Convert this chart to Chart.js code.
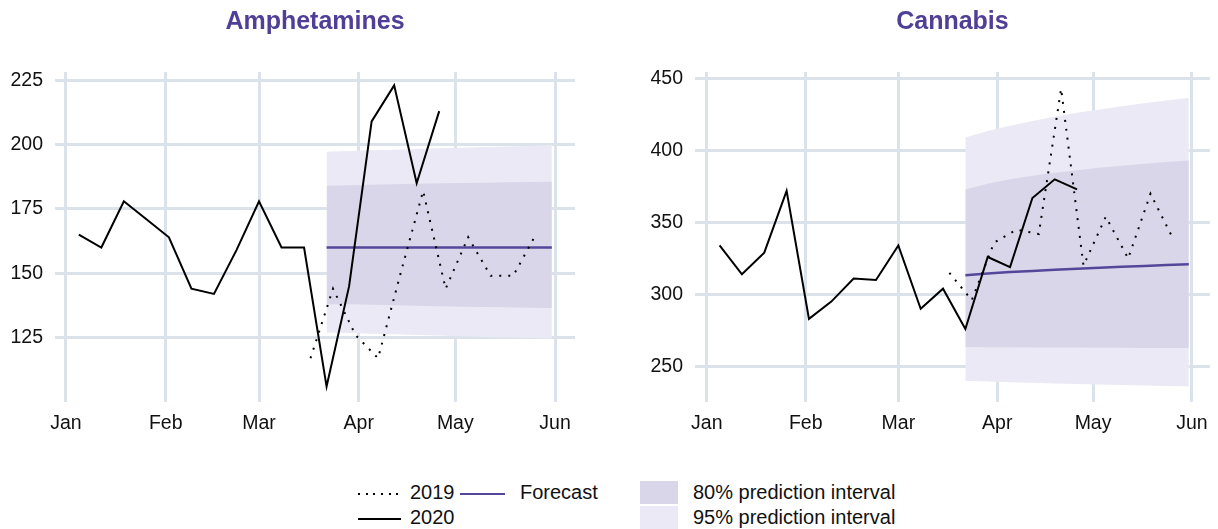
<!DOCTYPE html>
<html lang="en">
<head>
<meta charset="UTF-8">
<title>Amphetamines and Cannabis forecast</title>
<script src="https://cdn.jsdelivr.net/npm/chart.js@4.4.1/dist/chart.umd.min.js"></script>
<style>
    body {
        margin: 0;
        width: 1218px;
        height: 529px;
        background: #fff;
        font-family: "Liberation Sans", Arial, sans-serif;
        position: relative;
        overflow: hidden;
    }
    .panel { position: absolute; top: 0; height: 450px; }
    #leftPanel { left: 0; width: 600px; }
    #rightPanel { left: 640px; width: 578px; }
    .legend { position: absolute; font-size: 20px; color: #111; }
    .legend .row { position: absolute; white-space: nowrap; height: 24px; line-height: 24px; }
    .key { display: inline-block; width: 43px; height: 2px; vertical-align: middle; margin-right: 9px; }
    .dot { background: repeating-linear-gradient(to right, #000 0 2px, transparent 2px 7.7px); }
    .solid { background: #000; }
    .fc { background: #54479a; width: 45px; margin-right: 15px; }
    .sq { position: absolute; width: 38px; height: 23px; }
</style>
</head>
<body>
<div class="panel" id="leftPanel"><canvas id="amphChart"></canvas></div>
<div class="panel" id="rightPanel"><canvas id="cannChart"></canvas></div>

<div class="legend">
    <div class="row" style="left:358px; top:480px;"><span class="key dot"></span>2019</div>
    <div class="row" style="left:358px; top:505px;"><span class="key solid"></span>2020</div>
    <div class="row" style="left:460px; top:480px;"><span class="key fc"></span>Forecast</div>
    <div class="sq" style="left:640px; top:481px; background:#dad6ea;"></div>
    <div class="sq" style="left:640px; top:506px; background:#ebe9f5;"></div>
    <div class="row" style="left:693px; top:480px;">80% prediction interval</div>
    <div class="row" style="left:693px; top:505px;">95% prediction interval</div>
</div>

<script>
// weekly dates (2019 dates shown on the 2020 calendar)
const dates2020 = ['2020-01-05','2020-01-12','2020-01-19','2020-01-26','2020-02-02','2020-02-09',
    '2020-02-16','2020-02-23','2020-03-01','2020-03-08','2020-03-15','2020-03-22','2020-03-29',
    '2020-04-05','2020-04-12','2020-04-19','2020-04-26'];
const dates2019 = ['2020-03-17','2020-03-24','2020-03-31','2020-04-07','2020-04-14','2020-04-21',
    '2020-04-28','2020-05-05','2020-05-12','2020-05-19','2020-05-26'];
const forecastDates = ['2020-03-22','2020-03-29','2020-04-05','2020-04-12','2020-04-19','2020-04-26',
    '2020-05-03','2020-05-10','2020-05-17','2020-05-24','2020-05-31'];

const monthTicks = ['2020-01-01','2020-02-01','2020-03-01','2020-04-01','2020-05-01','2020-06-01'];
const monthLabels = ['Jan','Feb','Mar','Apr','May','Jun'];

// Amphetamines
const amph2020 = [165, 160, 178, 171, 164, 144, 142, 159, 178, 160, 160, 106, 145, 209, 223, 185, 213];
const amph2019 = [117, 144, 126, 117, 150, 182, 144, 164, 149, 149, 165];
const amphForecast = [160, 160, 160, 160, 160, 160, 160, 160, 160, 160, 160];
const amphLo80 = [138, 138, 137.8, 137.6, 137.4, 137.2, 137, 136.9, 136.8, 136.6, 136.5];
const amphHi80 = [184, 184.2, 184.4, 184.6, 184.8, 185, 185.1, 185.2, 185.4, 185.5, 185.6];
const amphLo95 = [127, 126.8, 126.5, 126.3, 126, 125.8, 125.5, 125.3, 125.1, 124.9, 124.7];
const amphHi95 = [197.2, 197.5, 197.8, 198, 198.3, 198.6, 198.8, 199.1, 199.3, 199.5, 199.8];
const amphYTicks = [125, 150, 175, 200, 225];

// Cannabis
const cann2020 = [334, 314, 329, 372, 283, 295, 311, 310, 334, 290, 304, 276, 326, 319, 367, 380, 373];
const cann2019 = [315, 296, 336, 345, 342, 443, 320, 354, 325, 370, 339];
const cannForecast = [313.3, 314.5, 315.5, 316.3, 317.1, 317.8, 318.5, 319.2, 319.8, 320.4, 321];
const cannLo80 = [263.4, 263.3, 263.2, 263.1, 263, 263, 262.9, 262.9, 262.8, 262.8, 262.7];
const cannHi80 = [373, 377, 380, 382.5, 384.5, 386.3, 388, 389.5, 390.8, 392, 393];
const cannLo95 = [240, 239.4, 238.9, 238.5, 238.1, 237.7, 237.3, 237, 236.7, 236.4, 236.1];
const cannHi95 = [409, 413.5, 417.3, 420.6, 423.5, 426.2, 428.6, 430.8, 432.8, 434.8, 436.6];
const cannYTicks = [250, 300, 350, 400, 450];

const COL_TITLE = '#4f3f97';
const COL_FC = '#54479a';
const COL_80 = '#dad6ea';
const COL_95 = '#ebe9f5';
const COL_GRID = '#dbe2ea';
const FONT = "'Liberation Sans', Arial, sans-serif";

const dayMs = 86400000;
const jan1 = Date.UTC(2020, 0, 1);
function dayOf(s) {
    const p = s.split('-').map(Number);
    return (Date.UTC(p[0], p[1] - 1, p[2]) - jan1) / dayMs;
}
function pts(ds, vs) {
    return ds.map((d, i) => ({ x: dayOf(d), y: vs[i] }));
}

function makeChart(id, title, s2020, s2019, fc, lo80, hi80, lo95, hi95, yTicks, yMin, yMax, xMin, xMax, padRight) {
    const band = (data, fill, color, order) => ({
        data: data, fill: fill, backgroundColor: color, borderWidth: 0,
        pointRadius: 0, order: order
    });
    new Chart(document.getElementById(id), {
        type: 'line',
        data: {
            datasets: [
                band(pts(forecastDates, hi95), '+1', COL_95, 10),
                band(pts(forecastDates, lo95), false, COL_95, 10),
                band(pts(forecastDates, hi80), '+1', COL_80, 9),
                band(pts(forecastDates, lo80), false, COL_80, 9),
                { label: 'Forecast', data: pts(forecastDates, fc), borderColor: COL_FC, borderWidth: 2.5,
                  pointRadius: 0, fill: false, order: 3 },
                { label: '2019', data: pts(dates2019, s2019), borderColor: '#000', borderWidth: 2,
                  borderDash: [2, 7], pointRadius: 0, fill: false, order: 2 },
                { label: '2020', data: pts(dates2020, s2020), borderColor: '#000', borderWidth: 2,
                  pointRadius: 0, fill: false, order: 1 }
            ]
        },
        options: {
            responsive: true,
            maintainAspectRatio: false,
            animation: false,
            layout: { padding: { left: 0, right: padRight, top: 0, bottom: 0 } },
            plugins: {
                legend: { display: false },
                tooltip: { enabled: false },
                title: {
                    display: true,
                    text: title,
                    fullSize: false,
                    color: COL_TITLE,
                    font: { family: FONT, size: 25, weight: 'bold' },
                    padding: { top: 7, bottom: 35 }
                }
            },
            scales: {
                x: {
                    type: 'linear',
                    min: xMin, max: xMax,
                    border: { display: false },
                    grid: { color: COL_GRID, lineWidth: 3, drawTicks: false },
                    afterBuildTicks: sc => { sc.ticks = monthTicks.map(d => ({ value: dayOf(d) })); },
                    afterFit: sc => { sc.height = 48; },
                    ticks: {
                        padding: 10,
                        color: '#111',
                        font: { family: FONT, size: 19.5 },
                        maxRotation: 0,
                        autoSkip: false,
                        callback: (v, i) => monthLabels[i]
                    }
                },
                y: {
                    min: yMin, max: yMax,
                    border: { display: false },
                    grid: { color: COL_GRID, lineWidth: 3, drawTicks: false },
                    afterBuildTicks: sc => { sc.ticks = yTicks.map(v => ({ value: v })); },
                    afterFit: sc => { sc.width = 55; },
                    ticks: {
                        padding: 12,
                        color: '#111',
                        font: { family: FONT, size: 19.5 }
                    }
                }
            }
        }
    });
}

makeChart('amphChart', 'Amphetamines', amph2020, amph2019, amphForecast, amphLo80, amphHi80,
    amphLo95, amphHi95, amphYTicks, 100, 228.2, -3.4, 158.2, 25);
makeChart('cannChart', 'Cannabis', cann2020, cann2019, cannForecast, cannLo80, cannHi80,
    cannLo95, cannHi95, cannYTicks, 225.2, 454.6, -3.7, 157.6, 3);
</script>
</body>
</html>
